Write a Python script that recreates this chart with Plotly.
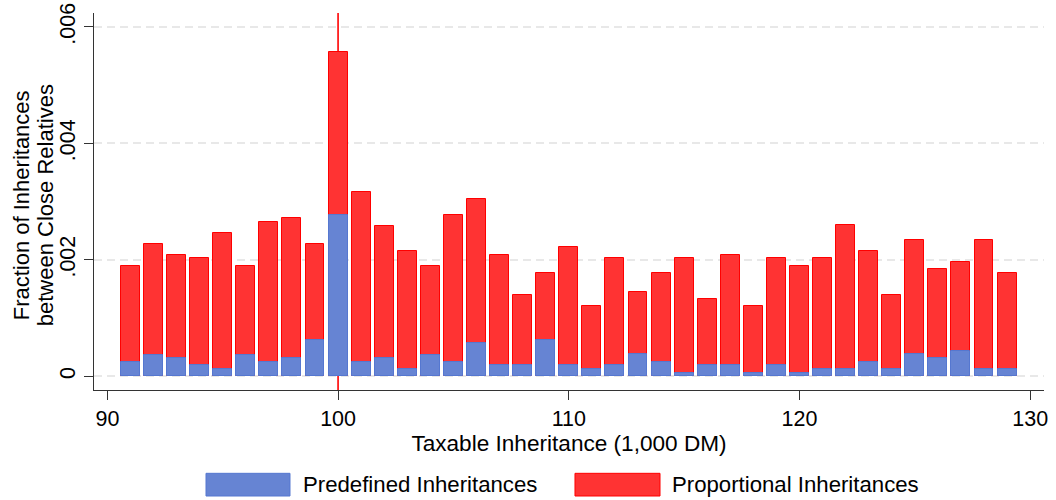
import plotly.graph_objects as go

# ---- data ----
taxable_inheritance = list(range(91, 130))  # 1,000 DM bins
proportional_total = [1.894, 2.272, 2.083, 2.026, 2.461, 1.894, 2.655, 2.718, 2.272, 5.562,
                      3.159, 2.587, 2.152, 1.894, 2.775, 3.039, 2.089, 1.396, 1.774, 2.215,
                      1.207, 2.026, 1.453, 1.774, 2.026, 1.333, 2.089, 1.207, 2.026, 1.900,
                      2.026, 2.592, 2.152, 1.396, 2.346, 1.837, 1.963, 2.346, 1.774]
predefined = [0.240, 0.372, 0.309, 0.189, 0.120, 0.372, 0.240, 0.309, 0.624, 2.775,
              0.240, 0.309, 0.120, 0.372, 0.250, 0.572, 0.189, 0.189, 0.629, 0.189,
              0.126, 0.189, 0.378, 0.250, 0.057, 0.189, 0.189, 0.057, 0.189, 0.057,
              0.126, 0.126, 0.252, 0.126, 0.378, 0.315, 0.440, 0.126, 0.126]
proportional_total = [v / 1000 for v in proportional_total]
predefined = [v / 1000 for v in predefined]
threshold = 100
y_tickvals = [0, 0.002, 0.004, 0.006]
y_ticktext = ["0", ".002", ".004", ".006"]
x_tickvals = [90, 100, 110, 120, 130]
legend_labels = ["Predefined Inheritances", "Proportional Inheritances"]
y_title_lines = ["Fraction of Inheritances", "between Close Relatives"]

BLUE = "#6684D3"
BLUE_EDGE = "#5577D0"
RED = "#FF3333"
RED_EDGE = "#FF0000"
FONT = "Liberation Sans, Arial, sans-serif"

fig = go.Figure()
fig.add_trace(go.Bar(x=taxable_inheritance, y=proportional_total, width=0.82,
                     marker=dict(color=RED, line=dict(color=RED_EDGE, width=1)),
                     name=legend_labels[1], showlegend=False))
fig.add_trace(go.Bar(x=taxable_inheritance, y=predefined, width=0.82,
                     marker=dict(color=BLUE, line=dict(color=BLUE_EDGE, width=1)),
                     name=legend_labels[0], showlegend=False))

fig.add_shape(type="line", x0=threshold, x1=threshold, xref="x", yref="paper",
              y0=0, y1=1, line=dict(color="#FF0000", width=1.6), layer="below")

# legend drawn manually (large swatches as in reference)
legend_items = [(0.1179, 0.2063, BLUE, BLUE_EDGE, 0.2179, legend_labels[0]),
                (0.5063, 0.5958, RED, RED_EDGE, 0.6063, legend_labels[1])]
for x0, x1, fc, ec, tx, label in legend_items:
    fig.add_shape(type="rect", xref="paper", yref="paper", x0=x0, x1=x1,
                  y0=-0.2812, y1=-0.2210, fillcolor=fc, line=dict(color=ec, width=1))
    fig.add_annotation(xref="paper", yref="paper", x=tx, y=-0.2511, text=label,
                       showarrow=False, xanchor="left", yanchor="middle",
                       font=dict(family=FONT, size=22.2, color="#000000"))

# two-line y-axis title (tighter line spacing than plotly's default)
for xp, line_text in zip([-0.0768, -0.0516], y_title_lines):
    fig.add_annotation(xref="paper", yref="paper", x=xp, y=0.49, text=line_text,
                       textangle=-90, showarrow=False, xanchor="center", yanchor="middle",
                       font=dict(family=FONT, size=22, color="#000000"))

fig.update_layout(
    barmode="overlay",
    width=1056, height=500,
    margin=dict(l=94, r=12, t=13, b=110),
    paper_bgcolor="white", plot_bgcolor="white",
    font=dict(family=FONT, size=21, color="#000000"),
    bargap=0,
)
fig.update_xaxes(range=[89.42, 130.6], tickvals=x_tickvals, ticks="outside",
                 ticklen=9, tickwidth=1, tickcolor="#333333",
                 showline=True, linecolor="#333333", linewidth=1.2,
                 showgrid=False, zeroline=False, automargin=False,
                 title=dict(text="Taxable Inheritance (1,000 DM)",
                            font=dict(size=22.6), standoff=2),
                 tickfont=dict(size=21.5))
fig.update_yaxes(range=[-0.000235, 0.00624], tickvals=y_tickvals, ticktext=y_ticktext,
                 tickangle=-90, ticks="outside", ticklen=9, tickwidth=1,
                 tickcolor="#333333", showline=True, linecolor="#333333",
                 linewidth=1.2, showgrid=True, gridcolor="#E8E8E8", gridwidth=1.5,
                 griddash="8px,5px", zeroline=False, automargin=False,
                 tickfont=dict(size=21.5))

fig.write_html("out.html", config={"displayModeBar": False},
               post_script="document.body.style.margin='0px';document.body.style.overflow='hidden';")
